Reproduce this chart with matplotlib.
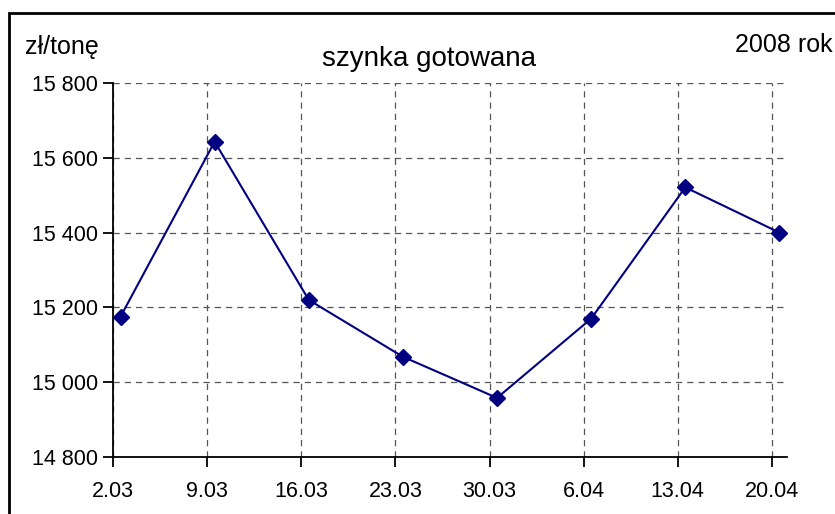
import matplotlib
matplotlib.use("Agg")
import matplotlib.pyplot as plt
import matplotlib.transforms as mtransforms
from matplotlib.patches import Rectangle

plt.rcParams['font.family'] = ['Liberation Sans', 'DejaVu Sans']

# data
dates = ["2.03", "9.03", "16.03", "23.03", "30.03", "6.04", "13.04", "20.04"]
prices = [15175, 15643, 15220, 15068, 14958, 15170, 15521, 15400]
y_ticks = [14800, 15000, 15200, 15400, 15600, 15800]

fig = plt.figure(figsize=(8.35, 5.14), dpi=100)
ax = fig.add_axes([113 / 835, 1 - 457 / 514, (787 - 113) / 835, (457 - 83) / 514])

x = list(range(len(dates)))
# points sit a few pixels right of the category ticks, as in the original
shift = mtransforms.ScaledTranslation(7.5 / 100, 0, fig.dpi_scale_trans)
ax.plot(x, prices, color='#000080', linewidth=1.5, marker='D', markersize=8.5,
        transform=ax.transData + shift, clip_on=False, zorder=3)

ax.set_xlim(0, 7.16)
ax.set_ylim(14800, 15800)
ax.set_xticks(x)
ax.set_xticklabels(dates)
ax.set_yticks(y_ticks)
ax.set_yticklabels([f"{v:,}".replace(",", " ") for v in y_ticks])

ax.grid(True, linestyle=(0, (5, 4)), color='#555555', linewidth=0.9)
ax.set_axisbelow(True)
for side in ('top', 'right'):
    ax.spines[side].set_visible(False)
for side in ('left', 'bottom'):
    ax.spines[side].set_linewidth(1.3)
ax.tick_params(direction='out', length=7, width=1.3, labelsize=15.5)
ax.tick_params(axis='x', pad=10)
ax.tick_params(axis='y', pad=4)

fig.text(25 / 835, 1 - 47 / 514, "zł/tonę", fontsize=18, va='center', ha='left')
fig.text(429 / 835, 1 - 59 / 514, "szynka gotowana", fontsize=20, va='center', ha='center')
fig.text(833 / 835, 1 - 45 / 514, "2008 rok", fontsize=18, va='center', ha='right')

fig.patches.append(Rectangle((9 / 835, -0.1), 1.1, 1.1 - 13 / 514, transform=fig.transFigure,
                             fill=False, edgecolor='black', linewidth=2))

fig.savefig("out.png", dpi=100)
